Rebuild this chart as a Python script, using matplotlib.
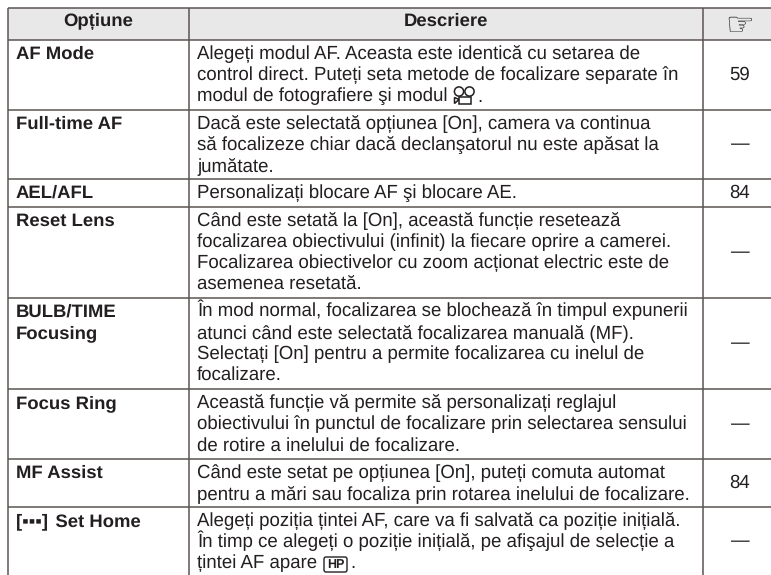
import matplotlib
matplotlib.use('Agg')
import matplotlib.pyplot as plt
from matplotlib.patches import Circle, Rectangle, Polygon, FancyBboxPatch

plt.rcParams['font.family'] = ['Liberation Sans', 'DejaVu Sans']
plt.rcParams['text.hinting'] = 'none'
plt.rcParams['text.hinting_factor'] = 8

# Table content
header = ['Opțiune', 'Descriere', '☞']
options = [['AF Mode'], ['Full-time AF'], ['AEL/AFL'], ['Reset Lens'],
           ['BULB/TIME', 'Focusing'], ['Focus Ring'], ['MF Assist'], ['[\u25aa\u25aa\u25aa]\u2009\u2009Set Home']]
descriptions = [
    ['Alegeți modul AF. Aceasta este identică cu setarea de',
     'control direct. Puteți seta metode de focalizare separate în',
     'modul de fotografiere şi modul'],
    ['Dacă este selectată opțiunea [On], camera va continua',
     'să focalizeze chiar dacă declanşatorul nu este apăsat la',
     'jumătate.'],
    ['Personalizați blocare AF şi blocare AE.'],
    ['Când este setată la [On], această funcție resetează',
     'focalizarea obiectivului (infinit) la fiecare oprire a camerei.',
     'Focalizarea obiectivelor cu zoom acționat electric este de',
     'asemenea resetată.'],
    ['În mod normal, focalizarea se blochează în timpul expunerii',
     'atunci când este selectată focalizarea manuală (MF).',
     'Selectați [On] pentru a permite focalizarea cu inelul de',
     'focalizare.'],
    ['Această funcție vă permite să personalizați reglajul',
     'obiectivului în punctul de focalizare prin selectarea sensului',
     'de rotire a inelului de focalizare.'],
    ['Când este setat pe opțiunea [On], puteți comuta automat',
     'pentru a mări sau focaliza prin rotarea inelului de focalizare.'],
    ['Alegeți poziția țintei AF, care va fi salvată ca poziție inițială.',
     'În timp ce alegeți o poziție inițială, pe afişajul de selecție a',
     'țintei AF apare'],
]
refs = ['59', '—', '84', '—', '—', '—', '84', '—']

# Layout in image pixels
row_lines = [7.5, 40, 109.5, 179, 206.5, 297.5, 389, 458.5, 507, 575]
col_lines = [7.5, 189, 703]
line_color = '#5b5452'
text_color = '#231f20'
fs = 13.4
fs_bold = 13.3
pitch = 21.2

fig = plt.figure(figsize=(7.71, 5.75), dpi=100)
ax = fig.add_axes([0, 0, 1, 1])
ax.set_xlim(0, 771)
ax.set_ylim(575, 0)
ax.axis('off')

ax.add_patch(Rectangle((col_lines[0], row_lines[0]), 771 - col_lines[0], row_lines[1] - row_lines[0],
                       fc='#e8e8e8', ec='none', zorder=0))

for y in row_lines[:-1]:
    ax.plot([col_lines[0], 771], [y, y], color=line_color, lw=1.1, solid_capstyle='butt')
for x in col_lines:
    ax.plot([x, x], [row_lines[0], 575], color=line_color, lw=1.1, solid_capstyle='butt')

ax.text(98, 26, header[0], fontsize=fs_bold, fontweight='bold', ha='center', va='baseline', color=text_color)
ax.text(446, 26, header[1], fontsize=fs_bold, fontweight='bold', ha='center', va='baseline', color=text_color)
ax.text(740, 25, header[2], fontsize=23, ha='center', va='center', color=text_color, family='DejaVu Sans')

for i in range(len(options)):
    top = row_lines[i + 1]
    bottom = row_lines[i + 2]
    for j, s in enumerate(options[i]):
        ax.text(15.5, top + 19 + j * pitch, s, fontsize=fs_bold, fontweight='bold',
                va='baseline', color=text_color)
    for j, s in enumerate(descriptions[i]):
        ax.text(197, top + 19 + j * pitch, s, fontsize=fs, va='baseline', color=text_color)
    ax.text(740, (top + bottom) / 2 + 0.5, refs[i], fontsize=fs, ha='center', va='center', color=text_color)

# Movie mode icon after "modul"
icon = dict(fc='none', ec=text_color, lw=1.1)
ax.add_patch(Circle((459, 91.5), 4.6, **icon))
ax.add_patch(Circle((469.5, 91.5), 4.6, **icon))
ax.add_patch(Rectangle((459, 97), 12, 6.5, **icon))
ax.add_patch(Polygon([(454.5, 97.5), (459, 99.5), (454.5, 103.5)], closed=True, **icon))
ax.text(477, 101.5, '.', fontsize=fs, va='baseline', color=text_color)

# HP badge in the last row
ax.add_patch(FancyBboxPatch((325, 558), 21, 13, boxstyle='round,pad=1,rounding_size=2',
                            fc='white', ec=text_color, lw=1.0))
ax.text(335.5, 564.5, 'HP', fontsize=9, fontweight='bold', ha='center', va='center', color=text_color)
ax.text(350, 568.5, '.', fontsize=fs, va='baseline', color=text_color)

fig.savefig('out.png', dpi=100)
